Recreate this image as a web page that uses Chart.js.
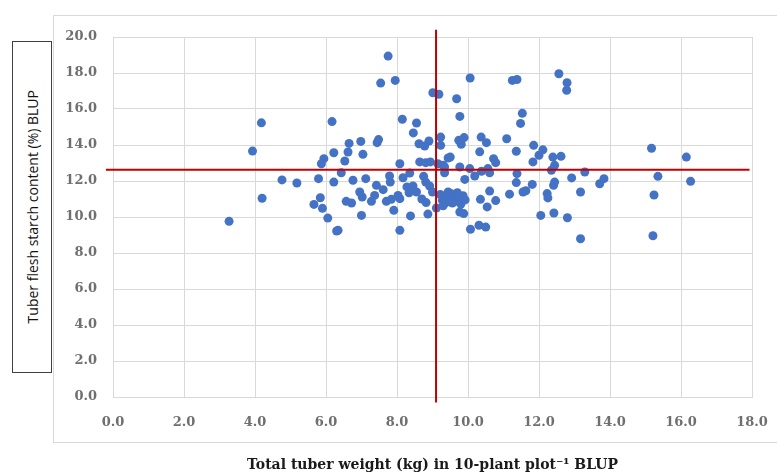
<!DOCTYPE html>
<html>
<head>
<meta charset="utf-8">
<script src="https://cdn.jsdelivr.net/npm/chart.js@4.4.0/dist/chart.umd.min.js"></script>
<style>
  body { margin: 0; background: #fff; overflow: hidden; }
  #wrap { position: relative; width: 777px; height: 475px; }
  #chart { display: block; }
  #ytitle {
    position: absolute; left: 12px; top: 41px; width: 38px; height: 330px;
    border: 1px solid #404040; background: #fff;
    display: flex; align-items: center; justify-content: center;
  }
  #ytitle span {
    writing-mode: vertical-rl; transform: rotate(180deg);
    font-family: "Open Sans", sans-serif; font-size: 14px; color: #111; white-space: nowrap;
  }
</style>
</head>
<body>
<div id="wrap">
  <canvas id="chart"></canvas>
  <div id="ytitle"><span>Tuber flesh starch content (%) BLUP</span></div>
</div>
<script>
// tuber weight (kg) / starch content (%) BLUP per genotype
const weight = [
  3.27, 3.93, 4.18, 4.20, 4.76, 5.18, 5.79, 5.84, 5.66, 5.90, 5.94, 5.87, 6.05, 6.17, 6.22,
  6.34, 6.30, 6.43, 6.53, 6.62, 6.65, 6.57, 6.72, 6.22, 6.76, 6.98, 7.04, 6.95, 7.02, 7.00,
  7.12, 7.28, 7.37, 7.42, 7.44, 7.48, 7.54, 7.61, 7.70, 7.75, 7.79, 7.81, 7.84, 7.91, 7.95,
  8.03, 8.08, 8.08, 8.08, 8.15, 8.17, 8.28, 8.34, 8.36, 8.38, 8.45, 8.46, 8.55, 8.55, 8.62,
  8.64, 8.75, 8.78, 8.81, 8.81, 8.87, 8.90, 8.92, 8.94, 9.00, 9.01, 9.11, 9.15, 9.18, 9.23,
  9.23, 9.30, 9.34, 9.34, 9.34, 9.44, 9.44, 9.50, 9.68, 9.74, 9.77, 9.77, 9.81, 9.89, 9.91,
  9.77, 9.88, 10.05, 10.06, 10.07, 10.19, 10.31, 10.33, 10.37, 10.38, 10.35, 10.50, 10.52, 10.54, 10.56,
  10.61, 10.61, 10.72, 10.78, 10.78, 11.09, 11.17, 11.25, 11.36, 11.38, 11.38, 11.36, 11.48, 11.53, 11.55,
  11.63, 11.81, 11.83, 11.85, 12.00, 12.05, 12.11, 12.23, 12.25, 12.35, 12.39, 12.41, 12.44, 12.44, 12.42,
  12.56, 12.62, 12.78, 12.79, 12.80, 12.92, 13.17, 13.17, 13.29, 13.71, 13.83, 15.17, 15.21, 15.24, 15.35,
  16.15, 16.27, 9.22, 9.28, 9.38, 9.40, 9.48, 9.52, 9.56, 9.60, 9.66, 9.70, 9.74, 9.80, 9.86,
  9.92, 9.30, 8.70, 8.82
];
const starch = [
  9.76, 13.66, 15.23, 11.04, 12.06, 11.89, 12.13, 11.07, 10.70, 10.48, 13.24, 12.96, 9.94, 15.30, 13.57,
  9.26, 9.22, 12.46, 13.11, 13.61, 14.09, 10.87, 10.78, 11.94, 12.04, 14.20, 13.48, 11.39, 11.11, 10.09,
  12.13, 10.87, 11.20, 11.76, 14.13, 14.30, 17.44, 11.52, 10.87, 18.94, 12.28, 11.94, 10.98, 10.37, 17.59,
  11.20, 11.02, 12.96, 9.26, 15.43, 12.18, 11.67, 11.35, 12.44, 10.06, 11.72, 14.67, 15.22, 11.39, 14.07,
  13.06, 12.26, 13.94, 13.02, 11.94, 10.16, 14.22, 11.72, 13.06, 11.39, 16.90, 10.50, 12.96, 16.82, 14.44,
  13.98, 12.87, 12.78, 12.46, 11.11, 13.28, 11.39, 13.33, 16.57, 14.26, 15.59, 12.78, 14.04, 14.41, 12.09,
  10.28, 10.19, 12.69, 17.72, 9.32, 12.28, 9.54, 13.62, 14.44, 12.54, 10.98, 9.44, 14.13, 10.56, 12.69,
  12.46, 11.44, 13.24, 13.02, 10.91, 14.35, 11.27, 17.59, 13.65, 17.64, 12.41, 11.91, 15.20, 15.76, 11.39,
  11.46, 11.81, 13.06, 13.98, 13.43, 10.09, 13.73, 11.30, 11.06, 12.60, 13.33, 11.76, 11.94, 12.87, 10.22,
  17.96, 13.37, 17.04, 17.46, 9.96, 12.17, 8.79, 11.39, 12.50, 11.85, 12.13, 13.82, 8.96, 11.22, 12.26,
  13.33, 11.98, 11.25, 10.92, 10.80, 11.20, 10.95, 11.30, 10.78, 11.12, 10.88, 11.35, 11.05, 10.72, 11.18,
  10.95, 10.62, 11.00, 10.80
];

// mean lines
const meanWeight = 9.1;
const meanStarch = 12.63;
const hLineX = [-0.2, 17.93];
const vLineY = [-0.3, 20.4];

const xTickLabels = ['0.0', '2.0', '4.0', '6.0', '8.0', '10.0', '12.0', '14.0', '16.0', '18.0'];
const yTickLabels = ['0.0', '2.0', '4.0', '6.0', '8.0', '10.0', '12.0', '14.0', '16.0', '18.0', '20.0'];

const points = weight.map((w, i) => ({ x: w, y: starch[i] }));
const hLine = hLineX.map(x => ({ x: x, y: meanStarch }));
const vLine = vLineY.map(y => ({ x: meanWeight, y: y }));

const tickFont = { family: 'DejaVu Serif', size: 13, weight: 'bold' };
const gridColor = '#d9d9d9';

const outerBox = {
  id: 'outerBox',
  beforeDraw(chart) {
    const ctx = chart.ctx;
    ctx.save();
    ctx.strokeStyle = '#d9d9d9';
    ctx.lineWidth = 1;
    ctx.strokeRect(53.5, 15.5, 760, 427);
    ctx.restore();
  }
};

new Chart(document.getElementById('chart'), {
  type: 'scatter',
  data: {
    datasets: [
      { data: hLine, showLine: true, borderColor: '#C00000', borderWidth: 2, pointRadius: 0, clip: false },
      { data: vLine, showLine: true, borderColor: '#C00000', borderWidth: 2, pointRadius: 0, clip: false },
      { data: points, backgroundColor: '#4472C4', borderWidth: 0, pointRadius: 4.5, pointHoverRadius: 4.5 }
    ]
  },
  options: {
    responsive: true,
    maintainAspectRatio: false,
    animation: false,
    layout: { padding: { top: 37, right: 25, bottom: 1, left: 0 } },
    plugins: { legend: { display: false }, tooltip: { enabled: false } },
    scales: {
      x: {
        type: 'linear', min: 0, max: 18,
        ticks: { stepSize: 2, font: tickFont, color: '#6f6f6f', padding: 18,
                 callback: (v, i) => xTickLabels[i] },
        grid: { color: gridColor, drawTicks: false },
        border: { color: gridColor },
        title: { display: true, text: 'Total tuber weight (kg) in 10-plant plot\u207B\u00B9 BLUP',
                 font: { family: 'DejaVu Serif', size: 14, weight: 'bold' }, color: '#1a1a1a', padding: 0 },
        afterFit: (scale) => { scale.height = 77; scale.paddingLeft = 0; scale.paddingRight = 0; }
      },
      y: {
        type: 'linear', min: 0, max: 20,
        ticks: { stepSize: 2, font: tickFont, color: '#6f6f6f', padding: 16,
                 callback: (v, i) => yTickLabels[i] },
        grid: { color: gridColor, drawTicks: false },
        border: { color: gridColor },
        afterFit: (scale) => { scale.width = 113; scale.paddingTop = 0; scale.paddingBottom = 0; }
      }
    }
  },
  plugins: [outerBox]
});
</script>
</body>
</html>
